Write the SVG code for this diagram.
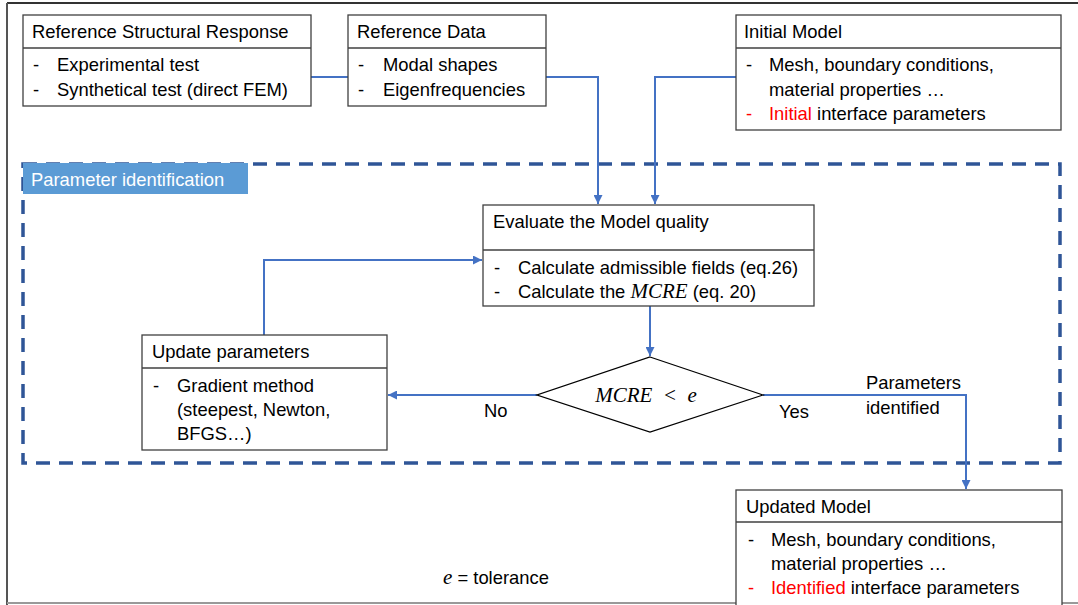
<svg xmlns="http://www.w3.org/2000/svg" width="1078" height="605" viewBox="0 0 1078 605">
<defs>
<style>
.box{fill:#fff;stroke:#404040;stroke-width:1.3}
.div{stroke:#404040;stroke-width:1.3}
.t{font-family:"Liberation Sans",Arial,sans-serif;font-size:18.4px;fill:#000}
.red{fill:#ff0000}
.m{font-family:"Liberation Serif","Times New Roman",serif;font-style:italic;font-size:21px}
.c{fill:none;stroke:#4472C4;stroke-width:2}
</style>
<marker id="ah" viewBox="0 0 10 10" refX="10" refY="5" markerWidth="9" markerHeight="9" markerUnits="userSpaceOnUse" orient="auto">
<path d="M0,0 L10,5 L0,10 z" fill="#4472C4"/>
</marker>
</defs>
<rect width="1078" height="605" fill="#fff"/>
<g id="frame">
<line x1="7" y1="3" x2="1078" y2="3" stroke="#333" stroke-width="2"/>
<line x1="7" y1="3" x2="7" y2="605" stroke="#555" stroke-width="2"/>
<line x1="7" y1="603" x2="1078" y2="603" stroke="#999" stroke-width="2"/>
</g>
<g id="param-ident">
<rect x="23" y="164" width="1037" height="299" fill="none" stroke="#2F5597" stroke-width="3.5" stroke-dasharray="14,9"/>
<rect x="23" y="163" width="225" height="31" fill="#5B9BD5"/>
<text x="31" y="186" class="t" style="fill:#fff">Parameter identification</text>
</g>
<g id="connectors">
<polyline class="c" points="311,77 348,77"/>
<polyline class="c" points="546,77 598,77 598,204" marker-end="url(#ah)"/>
<polyline class="c" points="736,77 655,77 655,204" marker-end="url(#ah)"/>
<polyline class="c" points="650,306 650,356" marker-end="url(#ah)"/>
<polyline class="c" points="537,395 388,395" marker-end="url(#ah)"/>
<polyline class="c" points="264,335 264,260 482,260" marker-end="url(#ah)"/>
<polyline class="c" points="763,395 966,395 966,489" marker-end="url(#ah)"/>
</g>
<g id="ref-structural">
<rect class="box" x="23" y="15" width="288" height="91"/>
<line class="div" x1="23" y1="48" x2="311" y2="48"/>
<text class="t" x="32" y="38">Reference Structural Response</text>
<text class="t" x="33" y="71">-</text><text class="t" x="57" y="71">Experimental test</text>
<text class="t" x="33" y="96">-</text><text class="t" x="57" y="96">Synthetical test (direct FEM)</text>
</g>
<g id="ref-data">
<rect class="box" x="348" y="15" width="198" height="91"/>
<line class="div" x1="348" y1="48" x2="546" y2="48"/>
<text class="t" x="357" y="38">Reference Data</text>
<text class="t" x="358" y="71">-</text><text class="t" x="383" y="71">Modal shapes</text>
<text class="t" x="358" y="96">-</text><text class="t" x="383" y="96">Eigenfrequencies</text>
</g>
<g id="initial-model">
<rect class="box" x="736" y="15" width="325" height="115"/>
<line class="div" x1="736" y1="48" x2="1061" y2="48"/>
<text class="t" x="744" y="38">Initial Model</text>
<text class="t" x="746" y="71">-</text><text class="t" x="769" y="71">Mesh, boundary conditions,</text>
<text class="t" x="769" y="96">material properties …</text>
<text class="t red" x="746" y="120">-</text><text class="t" x="769" y="120"><tspan class="red">Initial</tspan> interface parameters</text>
</g>
<g id="evaluate">
<rect class="box" x="483" y="205" width="331" height="101"/>
<line class="div" x1="483" y1="250" x2="814" y2="250"/>
<text class="t" x="493" y="228">Evaluate the Model quality</text>
<text class="t" x="494" y="274">-</text><text class="t" x="518" y="274">Calculate admissible fields (eq.26)</text>
<text class="t" x="494" y="298">-</text><text class="t" x="518" y="298">Calculate the <tspan class="m">MCRE</tspan> (eq. 20)</text>
</g>
<g id="decision">
<polygon points="650,357 763,395 650,432 537,395" fill="#fff" stroke="#000" stroke-width="1.3"/>
<text class="t m" x="646" y="402" text-anchor="middle" xml:space="preserve">MCRE  &lt;  e</text>
</g>
<g id="update-params">
<rect class="box" x="142" y="335" width="245" height="115"/>
<line class="div" x1="142" y1="368" x2="387" y2="368"/>
<text class="t" x="152" y="358">Update parameters</text>
<text class="t" x="153" y="392">-</text><text class="t" x="177" y="392">Gradient method</text>
<text class="t" x="177" y="416">(steepest, Newton,</text>
<text class="t" x="177" y="440">BFGS…)</text>
</g>
<g id="labels">
<text class="t" x="484" y="417">No</text>
<text class="t" x="779" y="418">Yes</text>
<text class="t" x="866" y="389">Parameters</text>
<text class="t" x="866" y="414">identified</text>
</g>
<g id="updated-model">
<rect class="box" x="736" y="490" width="326" height="120"/>
<line class="div" x1="736" y1="522" x2="1062" y2="522"/>
<text class="t" x="746" y="513">Updated Model</text>
<text class="t" x="748" y="546">-</text><text class="t" x="771" y="546">Mesh, boundary conditions,</text>
<text class="t" x="771" y="570">material properties …</text>
<text class="t red" x="748" y="594">-</text><text class="t" x="771" y="594"><tspan class="red">Identified</tspan> interface parameters</text>
</g>
<g id="legend">
<text class="t" x="443" y="584"><tspan class="m">e</tspan> = tolerance</text>
</g>
</svg>
